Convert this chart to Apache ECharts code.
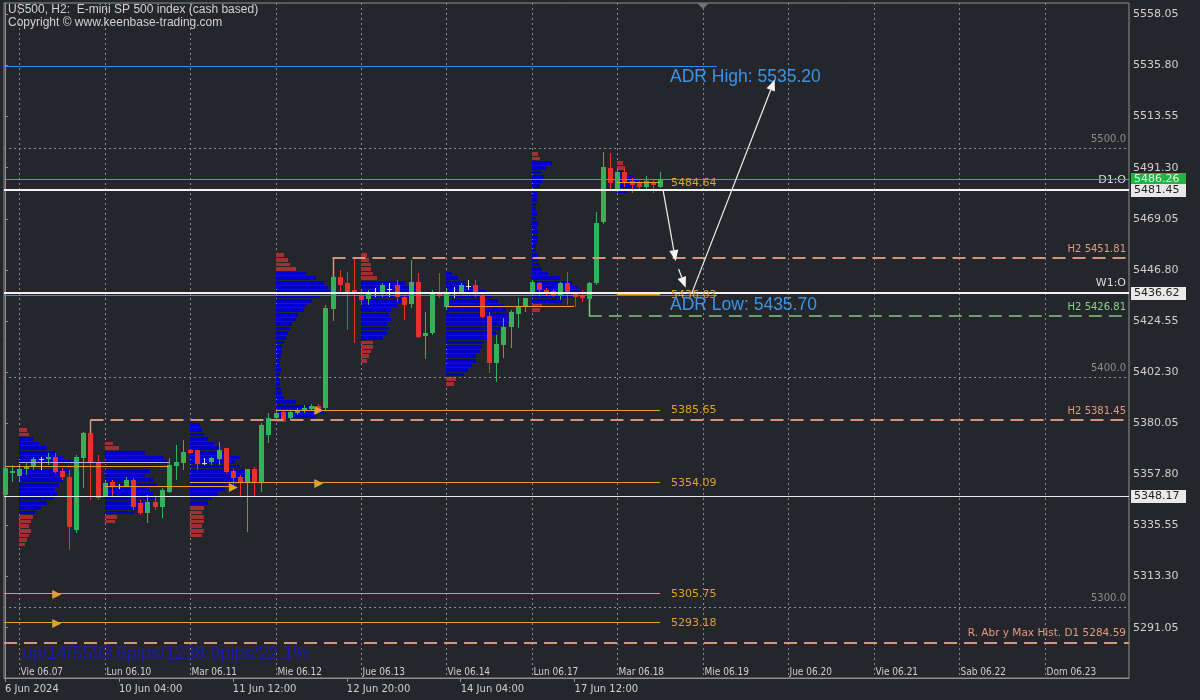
<!DOCTYPE html>
<html>
<head>
<meta charset="utf-8">
<title>US500 H2</title>
<script src="https://cdn.jsdelivr.net/npm/echarts@6/dist/echarts.min.js"></script>
<style>
  html, body { margin: 0; padding: 0; background: #24262b; }
  #chart { width: 1200px; height: 700px; }
</style>
</head>
<body>
<div id="chart"></div>
<script>
// ---------------- H2 price bars (US500) ----------------
const open = [
  5348.8, 5358.4, 5357.1, 5360.1, 5361.4, 5364.6, 5364.5, 5365.3, 5359.3, 5356.6,
  5333.6, 5364.9, 5375.8, 5362.7, 5348.4, 5354.5, 5352.6, 5352.7, 5355.3, 5345.3,
  5341.0, 5345.7, 5343.6, 5350.1, 5361.4, 5362.7, 5368.4, 5368.4, 5362.6, 5363.2,
  5364.5, 5369.3, 5359.3, 5356.6, 5354.0, 5360.1, 5354.0, 5374.9, 5382.3, 5384.9,
  5382.3, 5384.5, 5385.4, 5386.2, 5387.5, 5386.7, 5429.8, 5443.7, 5441.1, 5438.0,
  5435.9, 5434.1, 5437.0, 5436.7, 5438.3, 5440.2, 5435.0, 5431.9, 5441.5, 5418.0,
  5419.3, 5437.2, 5430.6, 5437.2, 5436.7, 5440.0, 5440.2, 5435.9, 5426.7, 5406.3,
  5414.1, 5421.9, 5427.6, 5430.6, 5436.62, 5441.1, 5438.0, 5437.6, 5435.9, 5441.1,
  5436.3, 5435.4, 5434.1, 5441.1, 5467.6, 5491.1, 5481.45, 5489.4, 5485.5, 5484.6,
  5482.9, 5485.0, 5482.9
];
const high = [
  5361.4, 5361.9, 5361.9, 5362.7, 5365.3, 5365.3, 5367.1, 5367.1, 5360.6, 5359.7,
  5366.2, 5376.2, 5381.45, 5366.2, 5355.3, 5355.3, 5353.6, 5356.6, 5356.2, 5346.6,
  5348.8, 5347.9, 5351.8, 5364.9, 5370.6, 5372.7, 5368.8, 5368.4, 5364.9, 5365.3,
  5371.9, 5369.3, 5360.1, 5357.5, 5360.1, 5361.0, 5380.2, 5384.5, 5385.8, 5385.4,
  5385.8, 5386.7, 5388.0, 5388.4, 5388.4, 5431.5, 5451.81, 5446.8, 5445.9, 5451.5,
  5438.0, 5438.0, 5438.9, 5441.1, 5441.1, 5442.4, 5437.2, 5451.0, 5445.4, 5428.5,
  5438.0, 5445.4, 5438.9, 5439.3, 5441.1, 5442.4, 5442.4, 5436.7, 5428.5, 5418.5,
  5425.9, 5429.3, 5434.6, 5434.6, 5442.4, 5441.5, 5438.9, 5438.5, 5441.5, 5445.9,
  5437.2, 5438.0, 5441.5, 5472.0, 5498.1, 5497.7, 5491.1, 5491.6, 5486.8, 5485.5,
  5487.6, 5486.4, 5489.4
];
const low = [
  5347.9, 5354.5, 5354.5, 5357.5, 5359.7, 5359.7, 5361.9, 5358.4, 5355.3, 5324.9,
  5332.3, 5351.8, 5346.6, 5346.6, 5347.9, 5347.9, 5351.4, 5352.3, 5342.3, 5340.1,
  5336.6, 5342.3, 5338.8, 5349.7, 5355.3, 5359.7, 5366.6, 5359.7, 5361.9, 5361.9,
  5361.9, 5358.4, 5352.3, 5347.9, 5332.7, 5347.9, 5350.1, 5371.4, 5381.4, 5381.0,
  5381.4, 5383.6, 5384.5, 5385.4, 5385.4, 5385.8, 5424.5, 5437.2, 5420.6, 5415.0,
  5431.5, 5431.5, 5435.0, 5435.0, 5435.0, 5432.8, 5425.0, 5430.2, 5417.1, 5408.0,
  5418.5, 5434.6, 5429.3, 5434.6, 5436.3, 5438.0, 5435.0, 5425.9, 5401.9, 5398.0,
  5408.4, 5412.8, 5421.5, 5428.5, 5435.4, 5435.9, 5435.4, 5435.0, 5433.7, 5431.5,
  5430.6, 5432.8, 5426.81, 5440.2, 5466.8, 5481.6, 5480.7, 5482.9, 5480.3, 5482.0,
  5482.0, 5480.3, 5482.4
];
const close = [
  5360.6, 5359.3, 5360.1, 5361.4, 5364.5, 5364.6, 5365.3, 5358.8, 5356.6, 5334.9,
  5365.3, 5375.8, 5363.2, 5347.5, 5354.0, 5352.3, 5352.6, 5355.3, 5343.6, 5341.0,
  5345.7, 5343.6, 5351.0, 5361.9, 5363.2, 5367.5, 5367.1, 5362.3, 5362.6, 5364.9,
  5368.4, 5358.8, 5356.2, 5354.0, 5360.1, 5354.0, 5379.3, 5382.3, 5384.5, 5381.4,
  5384.9, 5385.8, 5386.7, 5387.5, 5386.2, 5430.2, 5443.7, 5440.2, 5436.7, 5436.7,
  5433.7, 5436.7, 5437.0, 5440.2, 5438.3, 5435.0, 5431.5, 5441.5, 5417.6, 5419.3,
  5437.2, 5435.9, 5436.7, 5437.2, 5440.2, 5440.0, 5436.3, 5426.3, 5406.3, 5414.5,
  5421.9, 5428.5, 5430.6, 5434.6, 5441.5, 5438.0, 5436.7, 5435.9, 5441.1, 5436.7,
  5435.0, 5434.6, 5441.1, 5467.2, 5491.6, 5484.6, 5489.4, 5485.0, 5483.7, 5482.9,
  5485.5, 5483.7, 5486.26
];

// ---------------- time axis ----------------
const sessionStart = [2, 14, 26, 38, 50, 62, 74, 86, 98, 110, 122, 134, 146];
const sessionLabels = ['Vie 06.07', 'Lun 06.10', 'Mar 06.11', 'Mie 06.12', 'Jue 06.13', 'Vie 06.14',
  'Lun 06.17', 'Mar 06.18', 'Mie 06.19', 'Jue 06.20', 'Vie 06.21', 'Sab 06.22', 'Dom 06.23'];
const timeTicks = [0, 16, 32, 48, 64, 80];
const timeLabels = ['6 Jun 2024', '10 Jun 04:00', '11 Jun 12:00', '12 Jun 20:00', '14 Jun 04:00', '17 Jun 12:00'];

// ---------------- price axis ----------------
const priceTicks = [5558.05, 5535.80, 5513.55, 5491.30, 5469.05, 5446.80, 5424.55,
  5402.30, 5380.05, 5357.80, 5335.55, 5313.30, 5291.05];

// ---------------- session volume profiles (rows of 2 points) ----------------
const profileStart = [2, 14, 26, 38, 50, 62, 74, 86];
const profileBase = [5326, 5336, 5330, 5380, 5406, 5396, 5428, 5480];
const profileStep = 2;
const profileVolume = [
  [6, 8, 10, 12, 10, 12, 14, 16, 22, 28, 34, 38, 36, 40, 44, 46, 50, 48, 52, 44, 36, 28, 20, 14, 10, 8],
  [10, 12, 30, 40, 46, 50, 48, 44, 52, 48, 40, 45, 55, 62, 58, 40, 14, 8],
  [12, 14, 12, 14, 14, 12, 14, 18, 22, 28, 35, 45, 55, 62, 58, 50, 45, 50, 40, 30, 24, 18, 14, 12, 10, 8],
  [10, 40, 48, 40, 20, 8, 6, 5, 4, 4, 4, 5, 4, 4, 5, 6, 6, 8, 10, 12, 14, 16, 20, 22, 28, 30, 36, 44, 55, 52, 48, 40, 30, 20, 14, 12, 8],
  [6, 8, 10, 12, 12, 22, 26, 28, 26, 30, 28, 30, 36, 42, 52, 60, 56, 44, 16, 12, 10, 10, 8, 6],
  [8, 10, 18, 22, 26, 30, 30, 34, 36, 38, 44, 50, 56, 62, 64, 62, 60, 58, 52, 46, 40, 30, 20, 12, 6],
  [8, 10, 30, 42, 48, 46, 40, 28, 16, 10, 8, 6, 6, 4, 4, 5, 6, 6, 5, 6, 4, 5, 4, 4, 5, 5, 6, 8, 10, 12, 10, 14, 20, 8, 6],
  [10, 18, 22, 16, 10, 8, 6]
];
const valueAreaLow = [5340, 5340, 5344, 5382, 5416, 5400, 5432, 5480];
const valueAreaHigh = [5374, 5368, 5382, 5446, 5442, 5446, 5494, 5490];

// ---------------- reference levels ----------------
const roundLevels = [5500, 5400, 5300];
const swingHighBar = [12, 46];
const swingHighPrice = [5381.45, 5451.81];
const swingLowBar = [82];
const swingLowPrice = [5426.81];
const histLevel = 5284.59;
const bidPrice = 5486.26;
const dayOpen = 5481.45;
const weekOpen = 5436.62;
const rangeLevel = 5348.17;
const adrHigh = 5535.20;
const adrLow = 5435.70;
const adrEndBar = 100;

// untouched session POCs (run to the last bar) and ones that were revisited
const nakedPoc = [5385.65, 5354.09, 5305.75, 5293.18, 5484.64, 5436.03];
const nakedPocFrom = [38, 26, null, null, 86, 86];
const nakedPocMark = [44, 44, 7.2, 7.2, null, null];
const closedPocFrom = [0, 14, 62];
const closedPocTo = [23, 32, 80];
const closedPocPrice = [5361.4, 5352.3, 5431.0];
const pocMarkFrom = [2, 14];
const pocMarkTo = [23, 32];
const pocMarkPrice = [5362.9, 5352.7];

// projected path drawn on the chart
const pathArrows = [
  [[92.4, 5482.0], [94.2, 5450.6]],
  [[94.6, 5447.2], [95.6, 5439.0]],
  [[96.5, 5437.0], [108.1, 5529.6]]
];

const statsText = 'up/14/5593.6pips/1238.0pips/22.1%';

// ---------------- layout / styling ----------------
const XMIN = -0.14, XMAX = 157.86;
const YMIN = 5269.16, YMAX = 5562.97;
const BG = '#24262b';
const GREEN = '#33b25a', RED = '#e6312e', DOJI = '#d8d8d8';
const VP_BLUE = '#0000cd', VP_RED = '#a23030';
const ORANGE = '#e2a12e';
const SALMON = '#d6957b';
const LIME = '#7cc87c';
const ADR_BLUE = '#2d8cf5';
const DV = '"DejaVu Sans", sans-serif';
const LS = '"Liberation Sans", Arial, sans-serif';
const NARROW = '"Liberation Sans Narrow", "DejaVu Sans Condensed", "Liberation Sans", sans-serif';

const lastBar = open.length - 1;

// ---- candles ----
const candleData = open.map((o, i) => [i, o, high[i], low[i], close[i]]);
function renderCandle(params, api) {
  const i = api.value(0), o = api.value(1), h = api.value(2), l = api.value(3), c = api.value(4);
  const x = Math.round(api.coord([i, o])[0]);
  const yO = api.coord([i, o])[1], yC = api.coord([i, c])[1];
  const yH = Math.round(api.coord([i, h])[1]), yL = Math.round(api.coord([i, l])[1]);
  const col = c > o ? GREEN : (c < o ? RED : DOJI);
  const top = Math.round(Math.min(yO, yC)), bot = Math.round(Math.max(yO, yC));
  return {
    type: 'group',
    children: [
      { type: 'rect', shape: { x: x, y: yH, width: 1, height: Math.max(1, yL - yH) }, style: { fill: col } },
      { type: 'rect', shape: { x: x - 2, y: top, width: 5, height: Math.max(1, bot - top) }, style: { fill: col } }
    ]
  };
}

// ---- profiles ----
const PX_PER_BAR = 1125 / (XMAX - XMIN);
const profileData = [];
profileStart.forEach((s, k) => {
  profileVolume[k].forEach((v, r) => {
    const lo = profileBase[k] + r * profileStep;
    const hi = lo + profileStep;
    const inVA = lo >= valueAreaLow[k] && hi <= valueAreaHigh[k] ? 1 : 0;
    profileData.push([s, lo, hi, v / PX_PER_BAR, inVA]);
  });
});
function renderProfile(params, api) {
  const s = api.value(0), lo = api.value(1), hi = api.value(2), len = api.value(3), va = api.value(4);
  const a = api.coord([s, hi]), b = api.coord([s + len, lo]);
  const y0 = Math.round(a[1]), y1 = Math.round(b[1]);
  return {
    type: 'rect',
    shape: { x: Math.round(a[0]), y: y0, width: Math.max(1, Math.round(b[0] - a[0])), height: Math.max(1, y1 - y0 - 1) },
    style: { fill: va ? VP_BLUE : VP_RED }
  };
}

// ---- horizontal levels ----
const levels = [];
roundLevels.forEach(p => levels.push({ x1: XMIN, x2: XMAX, p, stroke: '#8d8d8d', w: 1, dash: [2, 3],
  label: p.toFixed(1), lc: '#8d8d8d', font: '10px ' + DV }));
swingHighBar.forEach((b, k) => levels.push({ x1: b, x2: XMAX, p: swingHighPrice[k], stroke: SALMON, w: 2, dash: [13, 7],
  label: 'H2 ' + swingHighPrice[k].toFixed(2), lc: '#e39a7f', font: '10px ' + DV, stem: b, stemDir: 1 }));
swingLowBar.forEach((b, k) => levels.push({ x1: b, x2: XMAX, p: swingLowPrice[k], stroke: LIME, w: 1.5, dash: [13, 7],
  label: 'H2 ' + swingLowPrice[k].toFixed(2), lc: '#86d486', font: '10px ' + DV, stem: b, stemDir: -1 }));
levels.push({ x1: XMIN, x2: XMAX, p: histLevel, stroke: SALMON, w: 2, dash: [13, 7],
  label: 'R. Abr y Max Hist. D1 ' + histLevel.toFixed(2), lc: '#e39a7f', font: '10.5px ' + DV });
levels.push({ x1: XMIN, x2: adrEndBar, p: adrHigh, stroke: ADR_BLUE, w: 1 });
levels.push({ x1: XMIN, x2: adrEndBar, p: adrLow, stroke: ADR_BLUE, w: 1 });
levels.push({ x1: XMIN, x2: XMAX, p: rangeLevel, stroke: '#e8e8e8', w: 1 });
levels.push({ x1: XMIN, x2: XMAX, p: weekOpen, stroke: '#f2f2f2', w: 2, label: 'W1:O', lc: '#dcdcdc', font: '11px ' + DV });
levels.push({ x1: XMIN, x2: XMAX, p: dayOpen, stroke: '#f2f2f2', w: 2, label: 'D1:O', lc: '#dcdcdc', font: '11px ' + DV });
levels.push({ x1: XMIN, x2: XMAX, p: bidPrice, stroke: '#1fc43f', w: 1 });
// session POCs
pocMarkFrom.forEach((f, k) => levels.push({ x1: f, x2: pocMarkTo[k], p: pocMarkPrice[k], stroke: '#b9a9f0', w: 1 }));
closedPocFrom.forEach((f, k) => levels.push({ x1: f, x2: closedPocTo[k], p: closedPocPrice[k], stroke: ORANGE, w: 1,
  arrowAt: k === 1 ? closedPocTo[k] : null }));
nakedPoc.forEach((p, k) => levels.push({ x1: nakedPocFrom[k] === null ? XMIN : nakedPocFrom[k], x2: lastBar, p, stroke: ORANGE, w: 1,
  arrowAt: nakedPocMark[k], tag: p.toFixed(2) }));

function renderLevel(params, api) {
  const d = levels[params.dataIndex];
  const a = api.coord([d.x1, d.p]), b = api.coord([d.x2, d.p]);
  const ch = [];
  if (d.dash) {
    const y = Math.round(a[1]) + (d.w % 2 === 1 ? 0.5 : 0);
    ch.push({ type: 'line', shape: { x1: a[0], y1: y, x2: b[0], y2: y },
      style: { stroke: d.stroke, lineWidth: d.w, lineDash: d.dash } });
  } else {
    // solid levels are filled strips, so thin coloured lines stay crisp
    const h = Math.max(1, Math.round(d.w));
    ch.push({ type: 'rect', shape: { x: Math.round(a[0]), y: Math.round(a[1] - h / 2), width: Math.round(b[0] - a[0]), height: h },
      style: { fill: d.stroke } });
  }
  const y = Math.round(a[1]);
  if (d.stem !== undefined) {
    const i = d.stem;
    const edge = d.stemDir > 0 ? Math.max(open[i], close[i]) : Math.min(open[i], close[i]);
    const sx = Math.round(api.coord([i, edge])[0]) + 0.5;
    ch.push({ type: 'line', shape: { x1: sx, y1: y, x2: sx, y2: api.coord([i, edge])[1] },
      style: { stroke: d.stroke, lineWidth: 1.5 } });
  }
  if (d.label) {
    ch.push({ type: 'text', x: b[0] - 3, y: y - 4,
      style: { text: d.label, fill: d.lc, font: d.font, align: 'right', verticalAlign: 'bottom' } });
  }
  if (d.arrowAt !== null && d.arrowAt !== undefined) {
    const ax = api.coord([d.arrowAt, d.p])[0];
    ch.push({ type: 'polygon', shape: { points: [[ax - 4, y - 4], [ax + 5, y + 0.5], [ax - 4, y + 5]] },
      style: { fill: ORANGE } });
  }
  if (d.tag) {
    ch.push({ type: 'text', x: api.coord([lastBar + 1.55, d.p])[0], y: y + 0.5,
      style: { text: d.tag, fill: ORANGE, font: '11px ' + DV, align: 'left', verticalAlign: 'middle' } });
  }
  return { type: 'group', children: ch };
}

// ---- session separators and their day labels ----
function renderSession(params, api) {
  const s = api.value(0);
  const t = api.coord([s, YMAX]), b = api.coord([s, YMIN]);
  const x = Math.round(t[0]) + 0.5;
  return {
    type: 'group',
    children: [
      { type: 'line', shape: { x1: x, y1: t[1], x2: x, y2: b[1] }, style: { stroke: '#8a8a8a', lineWidth: 1, lineDash: [2, 3] } },
      { type: 'text', x: x + 1, y: b[1] - 1,
        style: { text: sessionLabels[params.dataIndex], fill: '#cfcfcf', font: '10px ' + NARROW, align: 'left', verticalAlign: 'bottom' } }
    ]
  };
}

// ---- ADR captions ----
const adrCaptions = [[adrHigh, 'ADR High: ' + adrHigh.toFixed(2)], [adrLow, 'ADR Low: ' + adrLow.toFixed(2)]];
function renderAdr(params, api) {
  const c = adrCaptions[params.dataIndex];
  const p = api.coord([93.4, c[0]]);
  return { type: 'text', x: p[0], y: p[1] + 1,
    style: { text: c[1], fill: '#3a95e8', font: '17.5px ' + LS, align: 'left', verticalAlign: 'top' } };
}

// ---- path arrows ----
function renderPath(params, api) {
  const seg = pathArrows[params.dataIndex];
  const a = api.coord(seg[0]), b = api.coord(seg[1]);
  const ang = Math.atan2(b[1] - a[1], b[0] - a[0]);
  const L = 11, W = 4.5;
  const bx = b[0] - L * Math.cos(ang), by = b[1] - L * Math.sin(ang);
  const nx = -Math.sin(ang) * W, ny = Math.cos(ang) * W;
  return {
    type: 'group',
    children: [
      { type: 'line', shape: { x1: a[0], y1: a[1], x2: bx, y2: by }, style: { stroke: '#f0f0f0', lineWidth: 1.2 } },
      { type: 'polygon', shape: { points: [[b[0], b[1]], [bx + nx, by + ny], [bx - nx, by - ny]] }, style: { fill: '#f4f4f4' } }
    ]
  };
}

// ---- price boxes on the axis ----
const boxes = [
  [bidPrice, '#21b443', '#e6f5e6'],
  [dayOpen, '#e9e9e9', '#1e1e1e'],
  [weekOpen, '#e9e9e9', '#1e1e1e'],
  [rangeLevel, '#e9e9e9', '#1e1e1e']
];
function renderBox(params, api) {
  const bx = boxes[params.dataIndex];
  const p = api.coord([XMAX, bx[0]]);
  const y = Math.round(p[1]);
  return {
    type: 'group',
    children: [
      { type: 'rect', shape: { x: p[0] + 2, y: y - 6, width: 55, height: 13 }, style: { fill: bx[1] } },
      { type: 'text', x: p[0] + 5, y: y + 0.5, style: { text: bx[0].toFixed(2), fill: bx[2], font: '11px ' + DV, verticalAlign: 'middle' } }
    ]
  };
}

const chart = echarts.init(document.getElementById('chart'), null, { renderer: 'canvas' });
chart.setOption({
  backgroundColor: BG,
  animation: false,
  grid: { left: 4, right: 71, top: 3, bottom: 22, show: true, borderColor: '#8f8f8f', borderWidth: 1, backgroundColor: BG },
  xAxis: {
    type: 'value', min: XMIN, max: XMAX,
    axisLine: { show: true, lineStyle: { color: '#8f8f8f' } },
    axisTick: { show: true, customValues: timeTicks, length: 4, lineStyle: { color: '#8f8f8f' } },
    axisLabel: {
      show: true, customValues: timeTicks, align: 'left', margin: 6,
      color: '#cfcfcf', fontFamily: 'DejaVu Sans', fontSize: 10,
      formatter: v => timeLabels[timeTicks.indexOf(v)] || ''
    },
    splitLine: { show: false }
  },
  yAxis: {
    type: 'value', min: YMIN, max: YMAX, position: 'right', scale: true,
    axisLine: { show: true, lineStyle: { color: '#8f8f8f' } },
    axisTick: { show: true, customValues: priceTicks, length: 3, lineStyle: { color: '#8f8f8f' } },
    axisLabel: { show: true, customValues: priceTicks, margin: 4, color: '#cfcfcf', fontFamily: 'DejaVu Sans', fontSize: 11,
      formatter: v => v.toFixed(2) },
    splitLine: { show: false }
  },
  series: [
    { type: 'custom', name: 'sessions', z: 1, silent: true, renderItem: renderSession, data: sessionStart.map(s => [s, YMIN]) },
    { type: 'custom', name: 'profile', z: 2, silent: true, renderItem: renderProfile, data: profileData },
    { type: 'custom', name: 'US500', z: 3, silent: true, renderItem: renderCandle, data: candleData },
    { type: 'custom', name: 'levels', z: 4, silent: true, renderItem: renderLevel, data: levels.map(l => [l.x1, l.p]) },
    { type: 'custom', name: 'adr', z: 5, silent: true, renderItem: renderAdr, data: adrCaptions.map(c => [93.4, c[0]]) },
    { type: 'custom', name: 'path', z: 5, silent: true, renderItem: renderPath, data: pathArrows.map(s => s[0]) },
    { type: 'custom', name: 'boxes', z: 6, silent: true, renderItem: renderBox, clip: false, data: boxes.map(b => [XMAX, b[0]]) }
  ],
  graphic: [
    { type: 'text', left: 8, top: 4, z: 10, style: { text: 'US500, H2:  E-mini SP 500 index (cash based)', fill: '#d2d2d2', font: '12px ' + LS } },
    { type: 'text', left: 8, top: 17, z: 10, style: { text: 'Copyright \u00a9 www.keenbase-trading.com', fill: '#d2d2d2', font: '12px ' + LS } },
    { type: 'text', left: 22, top: 645, z: 10, style: { text: statsText, fill: '#1b1bb2', font: '18px ' + LS } },
    { type: 'polygon', z: 10, shape: { points: [[697, 3], [709, 3], [703, 9]] }, style: { fill: '#6f7075' } }
  ]
});
</script>
</body>
</html>
